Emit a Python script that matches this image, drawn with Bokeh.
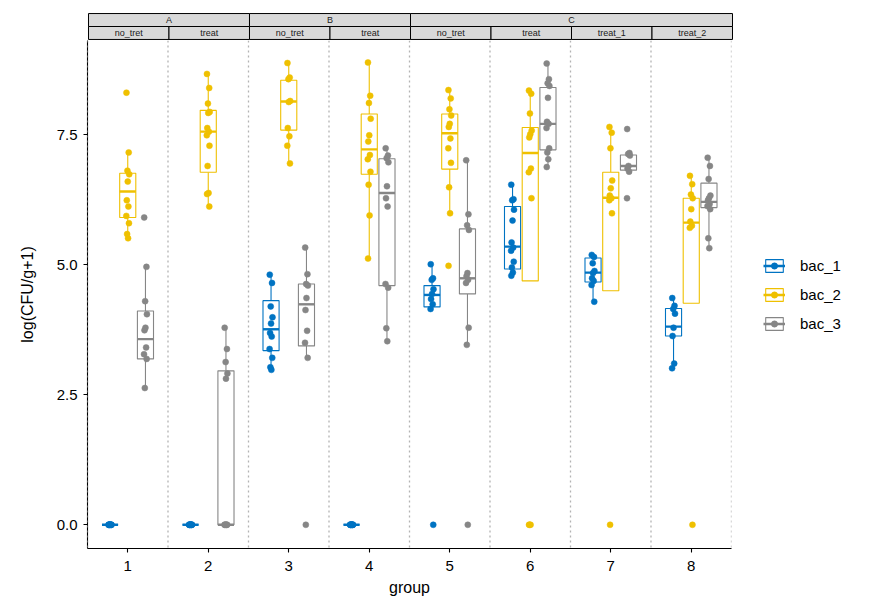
from bokeh.plotting import figure
from bokeh.models import (ColumnDataSource, Range1d, FixedTicker, Legend, LegendItem,
                          Span, PrintfTickFormatter)
from bokeh.layouts import column
from bokeh.transform import dodge
from bokeh.embed import file_html
from bokeh.resources import INLINE

# ---------------- data ----------------
groups = [1, 2, 3, 4, 5, 6, 7, 8]
panels = ["A", "A", "B", "B", "C", "C", "C", "C"]
treatments = ["no_tret", "treat", "no_tret", "treat", "no_tret", "treat", "treat_1", "treat_2"]
series = ["bac_1", "bac_2", "bac_3"]
colors = ["#0073C2", "#EFC000", "#868686"]
y_ticks = [0.0, 2.5, 5.0, 7.5]

bac_1_points = [
    [0, 0, 0, 0, 0, 0, 0, 0, 0, 0],
    [0, 0, 0, 0, 0, 0, 0, 0, 0, 0],
    [4.81, 4.65, 4.20, 3.99, 3.87, 3.69, 3.62, 3.38, 3.21, 3.03, 2.98],
    [0, 0, 0, 0, 0, 0, 0, 0, 0, 0],
    [5.01, 4.74, 4.71, 4.53, 4.44, 4.34, 4.24, 4.15, 0],
    [6.54, 6.26, 6.24, 6.06, 5.85, 5.43, 5.33, 5.27, 5.06, 4.95, 4.85, 4.79],
    [5.19, 5.15, 5.03, 4.88, 4.84, 4.74, 4.69, 4.61, 4.29],
    [4.36, 4.21, 4.15, 4.06, 3.79, 3.63, 3.10, 3.01],
]
bac_2_points = [
    [8.31, 7.16, 6.81, 6.74, 6.60, 6.24, 6.12, 5.94, 5.80, 5.59, 5.51],
    [8.67, 8.40, 8.10, 7.94, 7.92, 7.63, 7.56, 7.49, 7.29, 6.90, 6.38, 6.36, 6.12],
    [8.88, 8.60, 8.57, 8.15, 8.13, 7.63, 7.47, 7.29, 6.95],
    [8.89, 8.25, 8.11, 7.81, 7.49, 7.37, 7.11, 7.03, 6.79, 6.54, 5.95, 5.12],
    [8.36, 8.20, 7.99, 7.87, 7.71, 7.65, 7.43, 7.24, 6.96, 6.49, 5.99, 4.98],
    [8.35, 8.29, 7.91, 7.58, 7.51, 7.45, 6.85, 6.78, 6.28, 0, 0, 0],
    [7.65, 7.54, 7.24, 6.62, 6.47, 6.33, 6.28, 6.24, 5.99, 0],
    [6.71, 6.55, 6.35, 6.28, 6.07, 5.83, 5.75, 5.71, 0],
]
bac_3_points = [
    [5.91, 4.96, 4.30, 4.05, 3.79, 3.74, 3.41, 3.28, 3.19, 2.63],
    [3.79, 3.38, 3.13, 2.91, 2.81, 0, 0, 0, 0, 0, 0],
    [5.33, 4.82, 4.63, 4.60, 4.36, 4.13, 3.73, 3.50, 3.21, 0],
    [7.24, 7.10, 7.05, 6.97, 6.51, 6.28, 6.12, 4.63, 4.56, 3.78, 3.53],
    [7.01, 5.97, 5.76, 5.67, 4.84, 4.78, 4.71, 4.65, 3.79, 3.46, 0],
    [8.87, 8.57, 8.49, 8.44, 8.21, 7.75, 7.71, 7.63, 7.24, 7.16, 7.03, 6.88],
    [7.61, 7.15, 7.13, 7.10, 6.90, 6.85, 6.79, 6.28],
    [7.06, 6.90, 6.65, 6.33, 6.28, 6.24, 6.17, 6.13, 6.07, 5.51, 5.32],
]

# box statistics (q1, median, q3, whisker low, whisker high)
bac_1_q1 = [0, 0, 3.35, 0, 4.19, 4.92, 4.67, 3.63]
bac_1_med = [0, 0, 3.76, 0, 4.42, 5.35, 4.85, 3.81]
bac_1_q3 = [0, 0, 4.31, 0, 4.60, 6.12, 5.13, 4.16]
bac_1_lo = [0, 0, 2.98, 0, 4.15, 4.79, 4.29, 3.01]
bac_1_hi = [0, 0, 4.81, 0, 5.01, 6.54, 5.19, 4.36]

bac_2_q1 = [5.91, 6.78, 7.59, 6.74, 6.84, 4.69, 4.50, 4.26]
bac_2_med = [6.41, 7.56, 8.14, 7.22, 7.53, 7.15, 6.29, 5.81]
bac_2_q3 = [6.76, 7.97, 8.55, 7.90, 7.90, 7.64, 6.78, 6.28]
bac_2_lo = [5.51, 6.12, 6.95, 5.12, 5.99, 4.69, 4.50, 4.26]
bac_2_hi = [7.16, 8.67, 8.88, 8.89, 8.36, 8.35, 7.65, 6.71]

bac_3_q1 = [3.19, 0, 3.44, 4.60, 4.44, 7.21, 6.82, 6.10]
bac_3_med = [3.57, 0, 4.24, 6.38, 4.74, 7.71, 6.90, 6.21]
bac_3_q3 = [4.11, 2.96, 4.63, 7.04, 5.69, 8.41, 7.11, 6.57]
bac_3_lo = [2.63, 0, 3.21, 3.53, 3.46, 6.88, 6.82, 5.32]
bac_3_hi = [4.96, 3.79, 5.33, 7.24, 7.01, 8.87, 7.11, 7.06]

points = [bac_1_points, bac_2_points, bac_3_points]
stats = [
    (bac_1_q1, bac_1_med, bac_1_q3, bac_1_lo, bac_1_hi),
    (bac_2_q1, bac_2_med, bac_2_q3, bac_2_lo, bac_2_hi),
    (bac_3_q1, bac_3_med, bac_3_q3, bac_3_lo, bac_3_hi),
]

# ---------------- layout / style ----------------
FONT = "Liberation Sans"
offsets = [-0.22, 0.0, 0.22]
box_w = 0.2
jitter = [-0.016, 0.012, -0.004, 0.018, 0.0, -0.012, 0.008, -0.018, 0.015, -0.008, 0.004, -0.015, 0.013]

x_lo, x_hi = groups[0] - 0.5, groups[-1] + 0.5
y_lo, y_hi = -0.456, 9.313

# ---- strip figure (facet labels) ----
eps = 0.0124
strip = figure(frame_width=646, frame_height=28,
               x_range=Range1d(x_lo - eps, x_hi + eps), y_range=Range1d(-0.08, 2.08),
               x_axis_location=None, y_axis_location=None,
               toolbar_location=None, output_backend="svg",
               min_border_left=86, min_border_right=5, min_border_top=12, min_border_bottom=0)
strip.outline_line_color = None
strip.grid.visible = False

# top row: panels
pan_names, pan_l, pan_r = [], [], []
for g, pn in zip(groups, panels):
    if pn not in pan_names:
        pan_names.append(pn)
        pan_l.append(g - 0.5)
        pan_r.append(g + 0.5)
    else:
        pan_r[pan_names.index(pn)] = g + 0.5
top_src = ColumnDataSource(dict(left=pan_l, right=pan_r, name=pan_names,
                                xc=[(a + b) / 2 for a, b in zip(pan_l, pan_r)]))
strip.quad(left="left", right="right", bottom=1, top=2, source=top_src,
           fill_color="#D9D9D9", line_color="black", line_width=1)
strip.text(x="xc", y=1.5, text="name", source=top_src, text_align="center",
           text_baseline="middle", text_font_size="9px", text_color="#1A1A1A",
           text_font={"value": FONT})

bot_src = ColumnDataSource(dict(left=[g - 0.5 for g in groups], right=[g + 0.5 for g in groups],
                                xc=groups, name=treatments))
strip.quad(left="left", right="right", bottom=0, top=1, source=bot_src,
           fill_color="#D9D9D9", line_color="black", line_width=1)
strip.text(x="xc", y=0.5, text="name", source=bot_src, text_align="center",
           text_baseline="middle", text_font_size="9px", text_color="#1A1A1A",
           text_font={"value": FONT})

# ---- main figure ----
p = figure(frame_width=644, frame_height=508,
           x_range=Range1d(x_lo, x_hi), y_range=Range1d(y_lo, y_hi),
           toolbar_location=None, output_backend="svg",
           min_border_left=87, min_border_top=0, min_border_bottom=60, min_border_right=5,
           x_axis_label="group", y_axis_label="log(CFU/g+1)")
p.grid.visible = False
p.outline_line_color = None

# dotted group separators
for b in [g - 0.5 for g in groups] + [groups[-1] + 0.5]:
    p.add_layout(Span(location=b, dimension="height", line_color="#B3B3B3",
                      line_width=1.3, line_dash="2 3"))

box_r, med_r = [], []
for si in range(3):
    q1, med, q3, lo, hi = stats[si]
    off = offsets[si]
    src = ColumnDataSource(dict(x=groups, q1=q1, med=med, q3=q3, lo=lo, hi=hi))
    xc = dodge("x", off, range=p.x_range)
    p.segment(x0=xc, y0="q3", x1=xc, y1="hi", source=src, line_color=colors[si], line_width=1.1)
    p.segment(x0=xc, y0="q1", x1=xc, y1="lo", source=src, line_color=colors[si], line_width=1.1)
    br = p.vbar(x=xc, width=box_w, top="q3", bottom="q1", source=src,
                fill_color="white", line_color=colors[si], line_width=1.1)
    mr = p.segment(x0=dodge("x", off - box_w / 2, range=p.x_range), y0="med",
                   x1=dodge("x", off + box_w / 2, range=p.x_range), y1="med",
                   source=src, line_color=colors[si], line_width=2.4)
    box_r.append(br)
    med_r.append(mr)

pt_r = []
for si in range(3):
    xs, ys = [], []
    for g, vals in zip(groups, points[si]):
        for k, v in enumerate(vals):
            xs.append(g + jitter[k % len(jitter)])
            ys.append(v)
    psrc = ColumnDataSource(dict(x=xs, y=ys))
    pr = p.scatter(x=dodge("x", offsets[si], range=p.x_range), y="y", source=psrc,
                   size=6, fill_color=colors[si], line_color=colors[si], line_width=0.5)
    pt_r.append(pr)

# axes
p.xaxis.ticker = FixedTicker(ticks=groups)
p.yaxis.ticker = FixedTicker(ticks=y_ticks)
p.yaxis.formatter = PrintfTickFormatter(format="%.1f")
for ax in p.axis:
    ax.axis_line_color = "black"
    ax.axis_line_width = 1.1
    ax.major_tick_line_color = "black"
    ax.major_tick_line_width = 1.1
    ax.major_tick_out = 4
    ax.major_tick_in = 0
    ax.minor_tick_line_color = None
    ax.major_label_text_font = FONT
    ax.major_label_text_font_size = "15px"
    ax.major_label_text_color = "black"
    ax.axis_label_text_font = FONT
    ax.axis_label_text_font_size = "16px"
    ax.axis_label_text_font_style = "normal"
    ax.axis_label_text_color = "black"
p.xaxis.major_label_standoff = 8
p.xaxis.axis_label_standoff = 5
p.yaxis.major_label_standoff = 6
p.yaxis.axis_label_standoff = 18

legend = Legend(items=[LegendItem(label=series[i], renderers=[box_r[i], med_r[i], pt_r[i]])
                       for i in range(3)],
                location="center_left", orientation="vertical")
legend.border_line_color = None
legend.background_fill_alpha = 0
legend.glyph_width = 22
legend.glyph_height = 16
legend.label_height = 16
legend.spacing = 12
legend.label_standoff = 15
legend.padding = 0
legend.margin = 32
legend.label_text_font = FONT
legend.label_text_font_size = "15px"
legend.label_text_color = "black"
p.add_layout(legend, "right")

layout = column(strip, p, spacing=0)

with open("out.html", "w") as f:
    f.write(file_html(layout, INLINE))
